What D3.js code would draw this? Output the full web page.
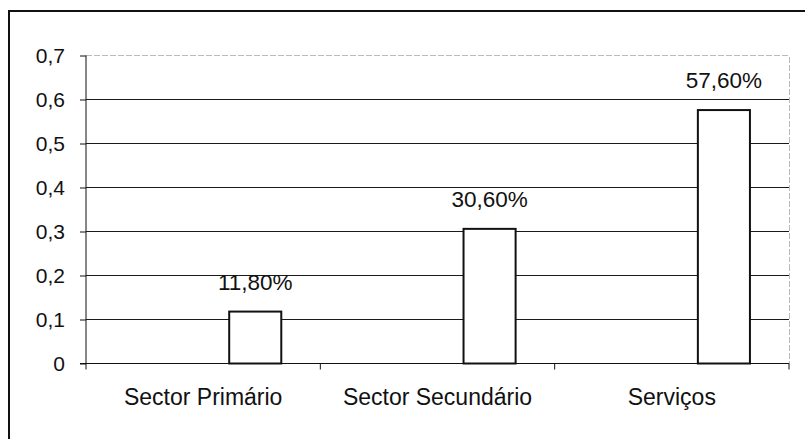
<!DOCTYPE html>
<html>
<head>
<meta charset="utf-8">
<script src="https://cdn.jsdelivr.net/npm/d3@7"></script>
<style>
  body { margin: 0; background: #fff; }
  svg { display: block; font-family: "Liberation Sans", Arial, sans-serif; }
</style>
</head>
<body>
<div id="chart"></div>
<script>
// data
var categories = ["Sector Primário", "Sector Secundário", "Serviços"];
var values = [0.118, 0.306, 0.576];
var valueLabels = ["11,80%", "30,60%", "57,60%"];
var yTicks = [0, 0.1, 0.2, 0.3, 0.4, 0.5, 0.6, 0.7];
// excel-style: bar sits in the 3rd slot of each category group
var slots = ["a", "b", "c"];
var dataSlot = "c";

(function() {
  var margin = { top: 55, left: 86, right: 16, bottom: 76 },
    width = 805 - margin.left - margin.right,
    height = 439 - margin.top - margin.bottom;

  var svg = d3.select("#chart")
    .append("svg")
    .attr("width", 805)
    .attr("height", 439);

  // outer chart frame (runs off the right/bottom of the picture)
  svg.append("rect")
    .attr("x", 9)
    .attr("y", 11)
    .attr("width", 820)
    .attr("height", 460)
    .attr("fill", "none")
    .attr("stroke", "#111")
    .attr("stroke-width", 2);

  var g = svg.append("g")
    .attr("transform", "translate(" + margin.left + "," + (margin.top + 0.5) + ")");

  var xScale = d3.scaleBand().domain(categories).range([0, width])
    .paddingInner(1 / 3).paddingOuter(1 / 6);
  var slotScale = d3.scaleBand().domain(slots).range([0, xScale.bandwidth()]);
  var yScale = d3.scaleLinear().domain([0, 0.7]).range([height, 0]);

  var fmt = d3.formatLocale({ decimal: ",", thousands: ".", grouping: [3], currency: ["", ""] }).format("~g");

  // grid lines
  g.selectAll(".grid")
    .data(yTicks.filter(function(d) { return d > 0 && d < 0.7; }))
    .enter().append("line")
    .attr("x1", 0).attr("x2", width)
    .attr("y1", function(d) { return yScale(d); })
    .attr("y2", function(d) { return yScale(d); })
    .attr("stroke", "#1a1a1a")
    .attr("stroke-width", 1)
    .attr("shape-rendering", "crispEdges");

  // plot area top + right edge, faint
  g.append("path")
    .attr("d", "M0," + yScale(0.7) + "H" + width + "V" + height)
    .attr("fill", "none")
    .attr("stroke", "#bbb")
    .attr("stroke-dasharray", "6,2")
    .attr("shape-rendering", "crispEdges");

  // y axis
  var yAxis = d3.axisLeft(yScale).tickValues(yTicks).tickSize(6).tickPadding(15).tickFormat(fmt);
  var ya = g.append("g").attr("class", "axis y-axis").call(yAxis);
  ya.select(".domain").attr("stroke", "#111").attr("d", "M0," + yScale(0.7) + "V" + height);
  ya.selectAll(".tick line").attr("stroke", "#111");
  ya.selectAll("text")
    .attr("fill", "#111")
    .style("font-size", "21px")
    .style("font-family", "'Liberation Sans', Arial, sans-serif");

  // bars
  g.selectAll(".bar")
    .data(values)
    .enter().append("rect")
    .attr("class", "bar")
    .attr("x", function(d, i) { return xScale(categories[i]) + slotScale(dataSlot); })
    .attr("y", function(d) { return yScale(d); })
    .attr("width", slotScale.bandwidth())
    .attr("height", function(d) { return height - yScale(d); })
    .attr("fill", "#fff")
    .attr("stroke", "#111")
    .attr("stroke-width", 2);

  // value labels
  g.selectAll(".val")
    .data(values)
    .enter().append("text")
    .attr("x", function(d, i) { return xScale(categories[i]) + slotScale(dataSlot) + slotScale.bandwidth() / 2; })
    .attr("y", function(d) { return yScale(d) - 22; })
    .attr("text-anchor", "middle")
    .attr("fill", "#111")
    .style("font-size", "22.5px")
    .text(function(d, i) { return valueLabels[i]; });

  // x axis: baseline + ticks between categories
  g.append("line")
    .attr("x1", -6).attr("x2", width)
    .attr("y1", height).attr("y2", height)
    .attr("stroke", "#111")
    .attr("shape-rendering", "crispEdges");

  var step = xScale.step();
  g.selectAll(".xtick")
    .data(d3.range(categories.length + 1))
    .enter().append("line")
    .attr("x1", function(i) { return i * step; })
    .attr("x2", function(i) { return i * step; })
    .attr("y1", height).attr("y2", height + 6)
    .attr("stroke", "#111");

  g.selectAll(".cat")
    .data(categories)
    .enter().append("text")
    .attr("x", function(d) { return xScale(d) + xScale.bandwidth() / 2; })
    .attr("y", height + 41)
    .attr("text-anchor", "middle")
    .attr("fill", "#111")
    .style("font-size", "23px")
    .text(function(d) { return d; });
})();
</script>
</body>
</html>
